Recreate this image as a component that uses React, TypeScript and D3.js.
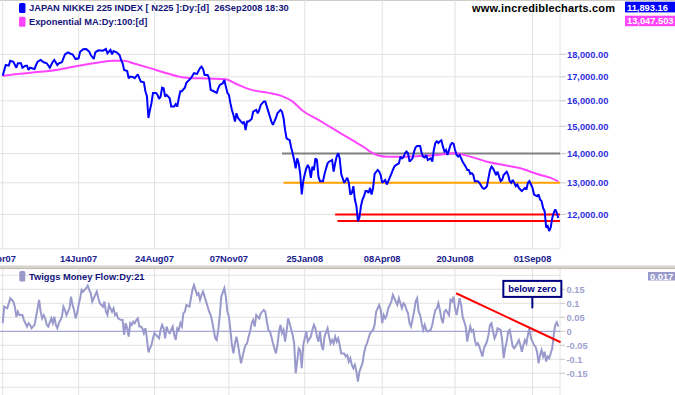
import React from 'react';
import * as d3 from 'd3';

const W = 675;
const H = 395;

// trading-day index (0 = early Apr 2007, 366 = 26 Sep 2008), close
const priceData: [number, number][] = [
[0,17045],[2,17520],[4,17490],[5,17710],[7,17665],[9,17400],[10,17595],[12,17595],[13,17400],[15,17490],[16,17490],[17,17300],[18,17400],[21,17345],[22,17520],[23,17665],[25,17742],[27,17640],[29,17595],[31,17400],[33,17665],[34,17742],[36,17520],[37,17595],[39,17640],[40,17818],[41,18000],[43,18091],[45,18014],[46,18000],[48,17787],[50,17818],[51,18119],[53,18230],[55,18243],[57,18119],[58,17968],[60,17787],[61,18091],[63,18183],[66,18165],[68,18243],[69,18046],[71,18197],[72,18000],[73,18151],[75,18091],[77,17968],[78,17742],[79,17595],[80,17300],[82,17257],[83,16942],[84,17011],[86,16985],[87,16942],[89,17114],[90,16942],[91,16800],[93,16770],[94,16392],[95,16190],[96,15320],[97,15635],[98,15905],[99,16325],[101,16325],[102,16241],[103,16078],[104,16175],[105,16540],[106,16515],[107,16175],[108,16241],[110,16105],[111,15770],[113,15770],[114,15865],[115,15770],[116,16105],[117,16392],[118,16392],[120,16540],
[121,16752],[124,16942],[126,17158],[128,17127],[130,17380],[131,17450],[132,17337],[133,17083],[135,17083],[136,16942],[137,16448],[139,16392],[141,16325],[142,16515],[143,16657],[145,16727],[146,16869],[147,16585],[148,16325],[149,16241],[150,15905],[151,15635],[152,15438],[153,15180],[154,15504],[155,15320],[157,15180],[158,15116],[159,15180],[160,14862],[161,15180],[162,15180],[164,15283],[165,15567],[167,15635],[168,15504],[169,15635],[170,15835],[172,15968],[173,15968],[175,15567],[176,15374],[177,15180],[178,15052],[180,15320],[181,15504],[183,15635],[184,15567],[185,15320],[186,14862],[187,14550],[188,14512],[189,14490],[190,14225],[191,14010],[192,13774],[193,13486],[194,13830],[195,13657],[196,13294],[197,12621],[198,13055],[199,13294],[200,13486],[201,13600],[202,13486],[203,13165],[204,13543],[205,13429],[206,13830],[207,13774],[208,13204],[209,13055],[211,13055],[212,13294],[214,13657],[215,13715],[217,13774],[218,13372],[219,13657],[220,13891],[221,14010],[222,13830],[223,13294],[225,13000],[227,13165],[228,13000],[229,12621],[230,12672],[231,12890],[232,12462],[233,12256],[234,11800],[235,11910],[236,12256],[237,12462],[238,12568],[239,12730],[240,12730],[241,12672],[242,12835],[243,12621],[244,12835],
[245,13294],[247,13429],[248,13372],[249,13260],[250,13000],[252,13093],[253,12945],[254,13055],[256,13294],[257,13429],[258,13543],[259,13600],[261,13657],[262,13891],[263,13830],[264,13865],[265,14010],[266,14070],[267,14010],[268,13715],[270,13830],[271,14070],[272,14225],[273,14273],[275,14273],[276,14010],[277,13891],[278,13865],[279,13949],[280,13774],[282,13830],[283,13715],[284,14127],[285,14380],[286,14440],[287,14380],[288,14440],[289,14478],[290,14247],[291,14070],[292,14127],[293,13949],[295,14308],[296,14380],[297,14355],[298,14127],[299,13949],[300,13891],[301,13949],[302,13830],[303,13715],[305,13543],[306,13429],[307,13429],[308,13295],[309,13320],[310,13260],[311,13055],[313,13055],[314,13000],[316,12835],[317,12803],[318,12835],[319,12890],[320,13165],[321,13429],[322,13543],[323,13486],[324,13372],[325,13260],[326,13372],[327,13204],[328,13055],[329,13093],[330,13260],[332,13372],[333,13260],[334,13055],[335,13000],[336,13093],[337,13000],[338,12890],[339,12945],[340,12835],[341,12782],[342,12730],[344,12835],[345,12782],[346,13000],[347,13055],[348,12945],[349,12835],[350,12621],[352,12568],[353,12621],[354,12462],[355,12410],[356,12200],[357,12098],[358,11610],[359,11652],[360,11505],[361,11610],[362,11885],[363,12050],[364,12150],[365,12050],[366,11893]
];

const emaData: [number, number][] = [
[0,17045],[10,17127],[21,17200],[32,17270],[43,17400],[53,17520],[64,17640],[73,17710],[80,17710],[86,17595],[97,17380],[108,17158],[119,16975],[134,16930],[147,16899],[153,16727],[164,16448],[175,16325],[184,16190],[191,15968],[197,15635],[208,15244],[219,14862],[230,14490],[239,14190],[242,14070],[253,13891],[264,13891],[275,13914],[286,13949],[297,14010],[308,13891],[319,13715],[330,13600],[341,13486],[352,13294],[361,13165],[366,13048]
];

const mfData: [number, number][] = [
[0,0.029],[1,0.088],[3,0.082],[4,0.1],[5,0.118],[7,0.106],[8,0.088],[9,0.052],[10,0.07],[11,0.058],[13,0.058],[14,0.04],[16,0.017],[17,0.029],[18,0.023],[19,0.011],[21,0.023],[22,0.052],[24,0.112],[25,0.07],[26,0.046],[27,0.058],[28,0.046],[29,0.023],[30,0.017],[32,0.046],[33,0.029],[34,0.052],[35,0.023],[36,0.011],[37,0.029],[38,0.04],[39,0.052],[40,0.088],[41,0.076],[42,0.058],[44,0.082],[45,0.124],[46,0.094],[47,0.076],[48,0.046],[49,0.064],[50,0.094],[51,0.118],[52,0.148],[53,0.142],[55,0.154],[56,0.163],[57,0.148],[58,0.136],[59,0.106],[60,0.118],[61,0.13],[62,0.142],[63,0.118],[64,0.1],[66,0.088],[67,0.106],[68,0.07],[69,0.058],[70,0.094],[71,0.082],[72,0.07],[73,0.082],[74,0.058],[75,0.064],[76,0.046],[78,0.04],[79,0.04],[80,-0.013],[81,0.029],[82,0.011],[83,-0.019],[84,0.029],[85,0.023],[86,0.035],[87,0.029],[88,0.04],[89,0.046],[90,0.017],[91,0.017],[92,0.011],[93,-0.007],[94,0.011],[95,-0.025],[96,-0.075],[97,-0.061],[98,-0.049],[99,-0.025],[100,-0.007],[101,-0.013],[102,-0.019],[103,-0.025],[104,0.005],[105,0.023],[106,0.011],[107,-0.025],[108,0.017],[109,-0.001],[110,-0.007],[112,0.017],[113,-0.013],[114,-0.031],[115,0.011],[116,0.005],[117,0.029],[118,0.017],[119,0.064],[120,0.07],[121,0.094],[123,0.088],[124,0.118],[125,0.148],[126,0.165],[127,0.148],[128,0.13],[129,0.136],[130,0.112],[131,0.13],[132,0.142],[134,0.106],[135,0.088],[136,0.07],[137,0.058],[138,0.035],[139,0.005],[140,-0.025],[141,-0.031],[142,0.005],[143,0.058],[144,0.124],[146,0.154],[147,0.124],[148,0.07],[149,0.052],[150,0.005],[151,-0.049],[152,-0.079],[153,-0.043],[154,-0.019],[155,-0.049],[157,-0.114],[158,-0.09],[159,-0.067],[160,-0.049],[161,-0.043],[162,-0.019],[163,-0.001],[164,0.029],[165,0.04],[166,0.017],[167,0.058],[169,0.046],[170,0.064],[171,0.07],[172,0.076],[173,0.07],[174,0.035],[175,0.005],[176,-0.001],[177,-0.019],[178,-0.043],[180,-0.079],[181,-0.049],[182,-0.001],[183,0.023],[184,-0.007],[185,0.005],[186,-0.037],[187,-0.001],[188,0.046],[189,0.029],[191,-0.013],[192,-0.043],[193,-0.15],[194,-0.107],[195,-0.061],[196,-0.067],
[197,-0.132],[198,-0.049],[199,-0.025],[200,-0.001],[201,-0.037],[203,-0.019],[204,0.005],[205,0.023],[206,0.011],[207,-0.019],[208,-0.037],[209,-0.001],[210,-0.049],[211,-0.067],[212,-0.019],[214,0.011],[215,-0.019],[216,-0.043],[217,-0.031],[218,-0.043],[219,-0.019],[220,-0.037],[221,-0.025],[222,-0.049],[223,-0.079],[225,-0.079],[226,-0.09],[227,-0.085],[228,-0.108],[229,-0.096],[230,-0.12],[231,-0.132],[232,-0.12],[233,-0.144],[234,-0.18],[235,-0.144],[237,-0.114],[238,-0.079],[239,-0.055],[240,-0.043],[241,-0.025],[242,-0.007],[243,-0.001],[244,0.005],[245,0.023],[246,0.07],[248,0.094],[249,0.076],[250,0.029],[251,0.058],[252,0.046],[253,0.058],[254,0.082],[255,0.094],[256,0.106],[257,0.13],[258,0.118],[260,0.094],[261,0.118],[262,0.1],[263,0.082],[264,0.1],[265,0.094],[266,0.076],[267,0.064],[268,0.029],[269,0.017],[271,0.07],[272,0.106],[273,0.118],[274,0.07],[275,0.058],[276,0.029],[277,0.005],[278,0.023],[279,0.005],[280,-0.001],[282,0.005],[283,0.023],[284,0.052],[285,0.076],[286,0.082],[287,0.1],[288,0.076],[289,0.046],[290,0.029],[291,0.07],[292,0.076],[294,0.058],[295,0.112],[296,0.106],[297,0.124],[298,0.082],[299,0.058],[300,0.088],[301,0.118],[302,0.094],[303,0.052],[305,0.017],[306,-0.037],[307,-0.007],[308,0.017],[309,-0.001],[310,0.005],[311,-0.031],[312,-0.049],[313,-0.043],[314,-0.055],[316,-0.09],[317,-0.061],[318,-0.049],[319,-0.037],[320,-0.013],[321,0.023],[322,0.029],[323,-0.001],[324,-0.025],[325,-0.013],[326,0.011],[328,0.005],[329,-0.031],[330,-0.096],[331,-0.061],[332,-0.037],[333,-0.001],[334,0.005],[335,-0.025],[336,-0.055],[337,-0.061],[339,-0.043],[340,-0.031],[341,-0.049],[342,-0.073],[343,-0.049],[344,-0.031],[345,-0.043],[346,-0.013],[347,0.011],[348,-0.025],[350,-0.049],[351,-0.055],[352,-0.073],[353,-0.114],[354,-0.085],[355,-0.067],[356,-0.09],[357,-0.073],[358,-0.108],[359,-0.09],[360,-0.096],[362,-0.061],[363,-0.013],[364,0.023],[365,0.032],[366,0.017]
];

const dateTicks: [number, string][] = [
  [0, 'Apr07'], [50, '14Jun07'], [100, '24Aug07'], [149, '07Nov07'],
  [199, '25Jan08'], [250, '08Apr08'], [298, '20Jun08'], [349, '01Sep08'],
];
const priceTicks = [18000, 17000, 16000, 15000, 14000, 13000, 12000];
const priceGrid = [18000, 17000, 16000, 15000, 14000, 13000, 12000, 11000];
const mfTicks = [0.15, 0.1, 0.05, 0, -0.05, -0.1, -0.15];
const mfGrid = [0.2, 0.15, 0.1, 0.05, -0.05, -0.1, -0.15, -0.2];

// horizontal support/resistance lines: [level, start day, colour]
const levelLines: [number, number, string][] = [
  [14000, 184, '#808080'],
  [13000, 185, '#ffa000'],
  [12000, 219, '#ff0000'],
  [11800, 220.5, '#ff0000'],
];
// money-flow trend line [day, value]
const mfTrend: [number, number][] = [[298.7, 0.136], [367.5, -0.039]];
const noteTip: [number, number] = [348.9, 0.082];
const noteTop = 0.18;

const lastClose = '11,893.16';
const lastEma = '13,047.503';
const lastMf = '0.017';

const FONT = "Arial, 'Liberation Sans', sans-serif";

export default function App() {
  React.useEffect(() => {
    document.body.style.margin = '0';
  }, []);

  const plotRight = 560;
  const x = d3.scaleLinear().domain([0, 366]).range([2.7, 558.3]);
  const yP = d3.scaleLog().domain([11000, 18000]).range([248.8, 54.3]);
  const yM = d3.scaleLinear().domain([-0.2, 0.2]).range([387.3, 275.3]);

  const priceLine = d3.line<[number, number]>().x(d => x(d[0])).y(d => yP(d[1]));
  const emaLine = d3.line<[number, number]>().x(d => x(d[0])).y(d => yP(d[1])).curve(d3.curveMonotoneX);
  const mfLine = d3.line<[number, number]>().x(d => x(d[0])).y(d => yM(d[1]));

  const grid = '#e2e2e2';
  const navy = '#14147a';

  const tipX = x(noteTip[0]);
  const tipY = yM(noteTip[1]);
  const boxTop = yM(noteTop);

  return (
    <svg width={W} height={H} style={{ display: 'block', position: 'absolute', left: 0, top: 0, background: '#fff' }} fontFamily={FONT}>
      <rect x={0} y={0} width={W} height={H} fill="#fff" />
      {/* top border */}
      <rect x={0} y={0} width={W} height={1} fill="#cfccc4" />

      {/* main panel grid */}
      <g>
        {dateTicks.map(([d]) => (
          <line key={'vg' + d} x1={x(d)} x2={x(d)} y1={0} y2={248.8} stroke={grid} strokeWidth={1} />
        ))}
        {priceGrid.map(v => (
          <line key={'hg' + v} x1={0} x2={plotRight} y1={yP(v)} y2={yP(v)} stroke={grid} strokeWidth={1} />
        ))}
        <line x1={plotRight} x2={plotRight} y1={0} y2={248.8} stroke={grid} strokeWidth={1} />
        {priceTicks.map(v => (
          <g key={'pt' + v}>
            <line x1={plotRight} x2={566} y1={yP(v)} y2={yP(v)} stroke="#c8c8c8" />
            <text x={567} y={yP(v) + 3.3} fontSize={9.3} fontWeight="bold" fill="#3030e0">
              {d3.format(',.2f')(v)}
            </text>
          </g>
        ))}
      </g>

      {/* level lines */}
      {levelLines.map(([v, d, c]) => (
        <line key={'lv' + v} x1={x(d)} x2={plotRight} y1={yP(v)} y2={yP(v)} stroke={c} strokeWidth={2} />
      ))}

      {/* EMA and price */}
      <path d={emaLine(emaData) || ''} fill="none" stroke="#ff44ff" strokeWidth={2} />
      <path d={priceLine(priceData) || ''} fill="none" stroke="#0000ff" strokeWidth={2} strokeLinejoin="miter" strokeMiterlimit={2} />

      {/* legends */}
      <rect x={19} y={3} width={6.5} height={10} rx={1.5} fill="#0000ff" />
      <text x={29} y={10.7} fontSize={9.3} fontWeight="bold" fill={navy} style={{ whiteSpace: 'pre' }}>
        {'JAPAN NIKKEI 225 INDEX [ N225 ]:Dy:[d]  26Sep2008 18:30'}
      </text>
      <rect x={19} y={16.7} width={6.5} height={10} rx={1.5} fill="#ff44ff" />
      <text x={29} y={25.3} fontSize={9.3} fontWeight="bold" fill={navy}>Exponential MA:Dy:100:[d]</text>

      <text x={472} y={12} fontSize={11} fontWeight="bold" fill="#000" textLength={143} lengthAdjust="spacing">
        www.incrediblecharts.com
      </text>
      <rect x={625} y={1.7} width={50} height={10.7} fill="#0000ff" />
      <text x={627} y={10.5} fontSize={9.3} fontWeight="bold" fill="#fff">{lastClose}</text>
      <rect x={625} y={15.7} width={50} height={10.5} fill="#ff44ff" />
      <text x={627} y={24.3} fontSize={9.3} fontWeight="bold" fill="#fff">{lastEma}</text>

      {/* x-axis labels */}
      {dateTicks.map(([d, l]) => (
        <text key={'xl' + d} x={x(d)} y={261.6} fontSize={9.3} fontWeight="bold" fill="#20208e" textAnchor="middle">{l}</text>
      ))}

      {/* separator */}
      <rect x={0} y={265.5} width={W} height={3.5} fill="#d6d3cb" />
      <rect x={0} y={268.3} width={W} height={0.8} fill="#b8b5ad" />

      {/* lower panel */}
      <g>
        {dateTicks.map(([d]) => (
          <line key={'vg2' + d} x1={x(d)} x2={x(d)} y1={269} y2={H} stroke={grid} strokeWidth={1} />
        ))}
        {mfGrid.map(v => (
          <line key={'mg' + v} x1={0} x2={plotRight} y1={yM(v)} y2={yM(v)} stroke={grid} strokeWidth={1} />
        ))}
        <line x1={plotRight} x2={plotRight} y1={269} y2={H} stroke={grid} strokeWidth={1} />
        <line x1={0} x2={plotRight} y1={yM(0)} y2={yM(0)} stroke="#9090c8" strokeWidth={1} />
        {mfTicks.map(v => (
          <g key={'mt' + v}>
            <line x1={plotRight} x2={565} y1={yM(v)} y2={yM(v)} stroke="#c8c8c8" />
            <text x={566.5} y={yM(v) + 3.3} fontSize={9.3} fontWeight="bold" fill="#9f9fd0">
              {String(v)}
            </text>
          </g>
        ))}
      </g>
      <path d={mfLine(mfData) || ''} fill="none" stroke="#9999cc" strokeWidth={2} />
      <line x1={x(mfTrend[0][0])} y1={yM(mfTrend[0][1])} x2={x(mfTrend[1][0])} y2={yM(mfTrend[1][1])} stroke="#ff0000" strokeWidth={2} />

      {/* annotation */}
      <line x1={tipX} x2={tipX} y1={boxTop + 16} y2={tipY} stroke="#000080" strokeWidth={2} />
      <rect x={tipX - 29} y={boxTop} width={58} height={16} fill="#fff" stroke="#000080" strokeWidth={2} />
      <text x={tipX} y={boxTop + 11.5} fontSize={9.3} fontWeight="bold" fill="#000080" textAnchor="middle">below zero</text>

      <rect x={19.3} y={271} width={6} height={10.5} rx={1.5} fill="#9999cc" />
      <text x={29} y={280} fontSize={9.3} fontWeight="bold" fill={navy}>Twiggs Money Flow:Dy:21</text>
      <rect x={648} y={272} width={27} height={8.5} fill="#9999cc" />
      <text x={650} y={279.8} fontSize={9.3} fontWeight="bold" fill="#fff">{lastMf}</text>
    </svg>
  );
}
